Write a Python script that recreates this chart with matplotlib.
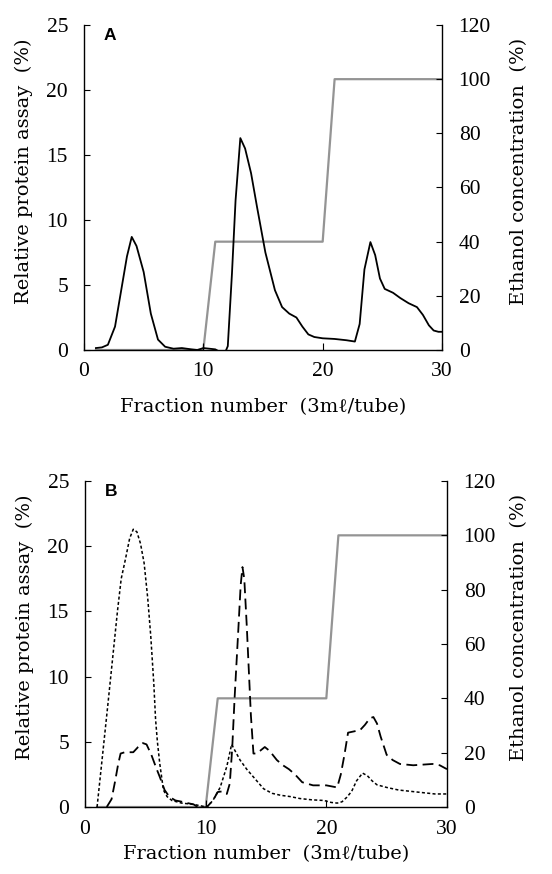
import matplotlib
matplotlib.use("Agg")
import matplotlib.pyplot as plt

plt.rcParams['font.family'] = ['DejaVu Serif', 'Liberation Serif', 'DejaVu Sans']

# Ethanol step gradient (right axis, %)
eth_x = [1, 10, 11, 20, 21, 30]
eth_y = [0, 0, 40, 40, 100, 100]

# Panel A: relative protein assay (%)
frac_a = [1.0, 1.5, 2.0, 2.6, 3.1, 3.6, 4.0, 4.4, 5.0, 5.6, 6.2, 6.8, 7.5, 8.2,
          9.0, 9.5, 10.0, 10.5, 11.0, 11.5, 11.8, 12.05, 12.4, 12.7, 13.1, 13.5,
          14.0, 14.5, 15.2, 16.0, 16.6, 17.2, 17.8, 18.3, 18.8, 19.3, 20.0, 21.0,
          22.0, 22.7, 23.1, 23.5, 24.0, 24.4, 24.8, 25.2, 25.9, 26.5, 27.2, 27.9,
          28.4, 28.9, 29.3, 29.7, 30.0]
protein_a = [0.15, 0.2, 0.4, 1.8, 4.5, 7.2, 8.7, 8.0, 6.0, 2.8, 0.8, 0.25, 0.1, 0.15,
             0.05, 0.0, 0.15, 0.1, 0.05, -0.2, -0.25, 0.3, 5.9, 11.5, 16.3, 15.5,
             13.6, 11.0, 7.5, 4.6, 3.3, 2.8, 2.5, 1.8, 1.2, 1.0, 0.9, 0.85,
             0.75, 0.65, 2.0, 6.2, 8.3, 7.3, 5.5, 4.7, 4.4, 4.0, 3.6, 3.3,
             2.7, 1.9, 1.5, 1.4, 1.4]

# Panel B: two fractions (dotted and dashed)
frac_b_dot = [1.0, 1.4, 1.9, 2.3, 2.7, 3.0, 3.35, 3.7, 4.0, 4.3, 4.6, 4.9, 5.2, 5.45,
              5.7, 5.85, 6.0, 6.2, 6.5, 6.8, 7.2, 8.0, 9.0, 9.8, 10.1, 10.6, 11.2,
              11.75, 12.15, 12.5, 12.85, 13.4, 13.96, 14.8, 15.5, 16.2, 17.0, 17.8,
              18.8, 19.8, 20.4, 20.9, 21.3, 21.7, 22.1, 22.5, 23.0, 23.4, 23.8,
              24.2, 25.0, 26.0, 27.0, 28.0, 29.0, 30.0]
protein_b_dot = [0, 3.5, 7.9, 11.5, 15.1, 17.5, 19.0, 20.6, 21.3, 21.1, 20.2, 18.7,
                 16.0, 13.1, 9.5, 6.7, 5.0, 3.3, 1.3, 0.8, 0.5, 0.3, 0.2, 0.05, 0.0,
                 0.5, 1.5, 3.1, 4.8, 4.2, 3.6, 2.9, 2.3, 1.4, 1.05, 0.9, 0.8, 0.65,
                 0.55, 0.5, 0.35, 0.3, 0.4, 0.75, 1.2, 2.0, 2.6, 2.4, 2.0, 1.7, 1.5,
                 1.3, 1.2, 1.1, 1.0, 1.0]

frac_b_dash = [1.8, 2.2, 2.5, 2.75, 2.95, 3.3, 3.7, 4.0, 4.4, 4.8, 5.1, 5.5, 5.9, 6.2,
               6.6, 7.0, 7.5, 7.9, 8.5, 9.0, 9.5, 10.1, 10.6, 11.0, 11.4, 11.75, 12.0,
               12.2, 12.4, 12.7, 12.9, 13.05, 13.2, 13.4, 13.55, 13.75, 13.96, 14.2,
               14.5, 14.9, 15.3, 15.9, 16.4, 16.9, 17.4, 18.0, 18.9, 20.0, 20.9, 21.2,
               21.5, 21.8, 22.3, 22.8, 23.2, 23.6, 23.9, 24.2, 24.5, 25.0, 25.5, 26.1,
               27.2, 28.0, 28.8, 29.4, 30.0]
protein_b_dash = [0, 0.6, 2.0, 3.3, 4.1, 4.2, 4.2, 4.2, 4.6, 4.9, 4.8, 4.0, 3.0, 2.3,
                  1.3, 0.77, 0.5, 0.43, 0.3, 0.2, -0.1, 0.0, 0.5, 1.15, 1.2, 1.0, 1.8,
                  4.5, 8.4, 13.5, 17.0, 18.4, 17.5, 14.0, 11.0, 7.0, 4.1, 4.1,
                  4.3, 4.6, 4.3, 3.6, 3.2, 2.9, 2.5, 1.9, 1.66, 1.66, 1.5, 2.5,
                  4.0, 5.7, 5.8, 5.9, 6.3, 6.8, 6.9, 6.4, 5.4, 4.0, 3.6, 3.3,
                  3.2, 3.25, 3.3, 3.2, 2.9]

W, H = 552, 874
fig = plt.figure(figsize=(W / 100, H / 100), dpi=100)
tick_font = ['Liberation Serif', 'DejaVu Serif']


def make_panel(rect, letter, xlab_y, ylab_r):
    ax = fig.add_axes(rect)
    ax2 = ax.twinx()
    ax.set_xlim(0, 30)
    ax.set_ylim(0, 25)
    ax2.set_ylim(0, 120)
    ax.set_xticks([0, 10, 20, 30])
    ax.set_yticks([0, 5, 10, 15, 20, 25])
    ax2.set_yticks([0, 20, 40, 60, 80, 100, 120])
    for a in (ax, ax2):
        a.spines['top'].set_visible(False)
        for s in ('left', 'right', 'bottom'):
            a.spines[s].set_linewidth(1.0)
    ax.spines['right'].set_visible(False)
    ax2.spines['left'].set_visible(False)
    ax2.spines['bottom'].set_visible(False)
    ax.tick_params(axis='y', direction='in', length=4, width=0.8, pad=11.5, labelsize=15.5)
    ax.tick_params(axis='x', direction='in', length=5, width=0.8, pad=9, labelsize=15.5)
    ax2.tick_params(axis='y', direction='in', length=4, width=0.8, pad=12, labelsize=15.5)
    for lab in ax.get_xticklabels() + ax.get_yticklabels() + ax2.get_yticklabels():
        lab.set_family(tick_font)
    ax.set_xlabel('Fraction number  (3m\u2113/tube)', fontsize=14)
    ax.xaxis.set_label_coords(0.5, xlab_y)
    ax.set_ylabel('Relative protein assay  (%)', fontsize=14)
    ax.yaxis.set_label_coords(-0.142, 0.55)
    ax2.set_ylabel('Ethanol concentration  (%)', fontsize=14)
    ax2.yaxis.set_label_coords(ylab_r, 0.55)
    ax.text(0.055, 0.99, letter, transform=ax.transAxes, va='top', ha='left',
            fontsize=12.5, fontweight='bold', family=['Liberation Sans', 'DejaVu Sans'])
    ax2.plot(eth_x, eth_y, color='0.58', lw=1.6, zorder=1)
    ax.set_zorder(ax2.get_zorder() + 1)
    ax.patch.set_visible(False)
    return ax


ax_a = make_panel([84 / W, 1 - 350 / H, 358 / W, 325 / H], 'A', -0.148, 1.19)
ax_a.plot(frac_a, protein_a, color='black', lw=1.3)

ax_b = make_panel([85 / W, 1 - 807 / H, 362 / W, 326 / H], 'B', -0.117, 1.174)
ax_b.plot(frac_b_dot, protein_b_dot, color='black', lw=1.1, linestyle=(0, (2, 1.5)))
ax_b.plot(frac_b_dash, protein_b_dash, color='black', lw=1.3, linestyle=(0, (6, 3)))

fig.savefig('out.png', dpi=100)
